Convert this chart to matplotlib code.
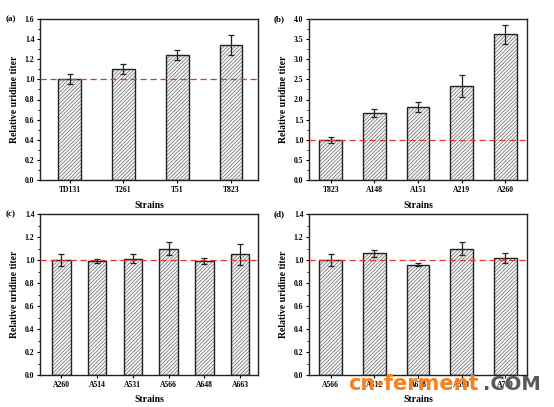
import matplotlib
matplotlib.use("Agg")
import matplotlib.pyplot as plt
from matplotlib.ticker import MultipleLocator, AutoMinorLocator

plt.rcParams['font.family'] = ['Liberation Serif', 'DejaVu Serif']
plt.rcParams['font.weight'] = 'bold'
plt.rcParams['hatch.color'] = '#b0b0b0'
plt.rcParams['hatch.linewidth'] = 0.3

# Data
strains_a = ["TD131", "T261", "T51", "T823"]
titer_a = [1.00, 1.10, 1.24, 1.345]
err_a = [0.05, 0.05, 0.05, 0.10]

strains_b = ["T823", "A148", "A151", "A219", "A260"]
titer_b = [1.00, 1.66, 1.82, 2.33, 3.62]
err_b = [0.07, 0.10, 0.12, 0.28, 0.23]

strains_c = ["A260", "A514", "A531", "A566", "A648", "A663"]
titer_c = [1.00, 0.99, 1.01, 1.10, 0.99, 1.05]
err_c = [0.05, 0.015, 0.04, 0.06, 0.025, 0.09]

strains_d = ["A566", "A612", "A678", "A693", "A700"]
titer_d = [1.00, 1.06, 0.96, 1.10, 1.02]
err_d = [0.055, 0.03, 0.015, 0.06, 0.045]

W, H = 554, 407
fig = plt.figure(figsize=(W / 100, H / 100), dpi=100)
fig.patch.set_facecolor('white')


def px_axes(l, t, r, b):
    return fig.add_axes([l / W, (H - b) / H, (r - l) / W, (b - t) / H])


panels = [
    ("(a)", strains_a, titer_a, err_a, (40, 19, 258, 180), 1.6, 0.2, 0.42, (0.45, 4.5)),
    ("(b)", strains_b, titer_b, err_b, (309, 19, 527, 180), 4.0, 0.5, 0.52, (0.5, 5.5)),
    ("(c)", strains_c, titer_c, err_c, (40, 214, 258, 375), 1.4, 0.2, 0.52, (0.4, 6.5)),
    ("(d)", strains_d, titer_d, err_d, (309, 214, 527, 375), 1.4, 0.2, 0.52, (0.5, 5.5)),
]

for label, names, vals, errs, box, ymax, step, bw, xl in panels:
    ax = px_axes(*box)
    x = list(range(1, len(names) + 1))
    ax.bar(x, vals, width=bw, color='#f2f2f2', edgecolor='#222222',
           linewidth=1.0, hatch='/' * 9, zorder=2)
    ax.errorbar(x, vals, yerr=errs, fmt='none', ecolor='#222222',
                elinewidth=0.9, capsize=2.0, capthick=0.9, zorder=3)
    ax.axhline(1.0, color='#e8322e', linestyle=(0, (5, 3)), linewidth=0.9, zorder=4)
    ax.set_xlim(*xl)
    ax.set_ylim(0, ymax)
    ax.yaxis.set_major_locator(MultipleLocator(step))
    ax.yaxis.set_minor_locator(AutoMinorLocator(2))
    ax.set_yticklabels([f"{v:.1f}" for v in ax.get_yticks()])
    ax.set_xticks(x)
    ax.set_xticklabels(names)
    ax.tick_params(axis='both', direction='out', labelsize=5.5, width=0.8, length=2.5, pad=1.5)
    ax.tick_params(axis='y', which='minor', direction='out', width=0.6, length=1.5)
    for s in ax.spines.values():
        s.set_linewidth(1.0)
        s.set_color('#222222')
    ax.set_ylabel("Relative uridine titer", fontsize=7, fontweight='bold', labelpad=4)
    ax.set_xlabel("Strains", fontsize=7, fontweight='bold', labelpad=5)
    l, t, r, b = box
    fig.text((l - 24) / W, (H - t) / H, label, fontsize=6.5, fontweight='bold',
             ha='right', va='center')

# Watermark
fig.text(348 / W, (H - 384) / H, "cn-ferment", fontsize=15, fontweight='bold',
         family=['DejaVu Sans'], color='#f5821f', ha='left', va='center')
fig.text(541 / W, (H - 385) / H, ".COM", fontsize=14, fontweight='bold',
         family=['DejaVu Sans'], color='#5a5a5a', ha='right', va='center')

fig.savefig("out.png", dpi=100, facecolor='white')
